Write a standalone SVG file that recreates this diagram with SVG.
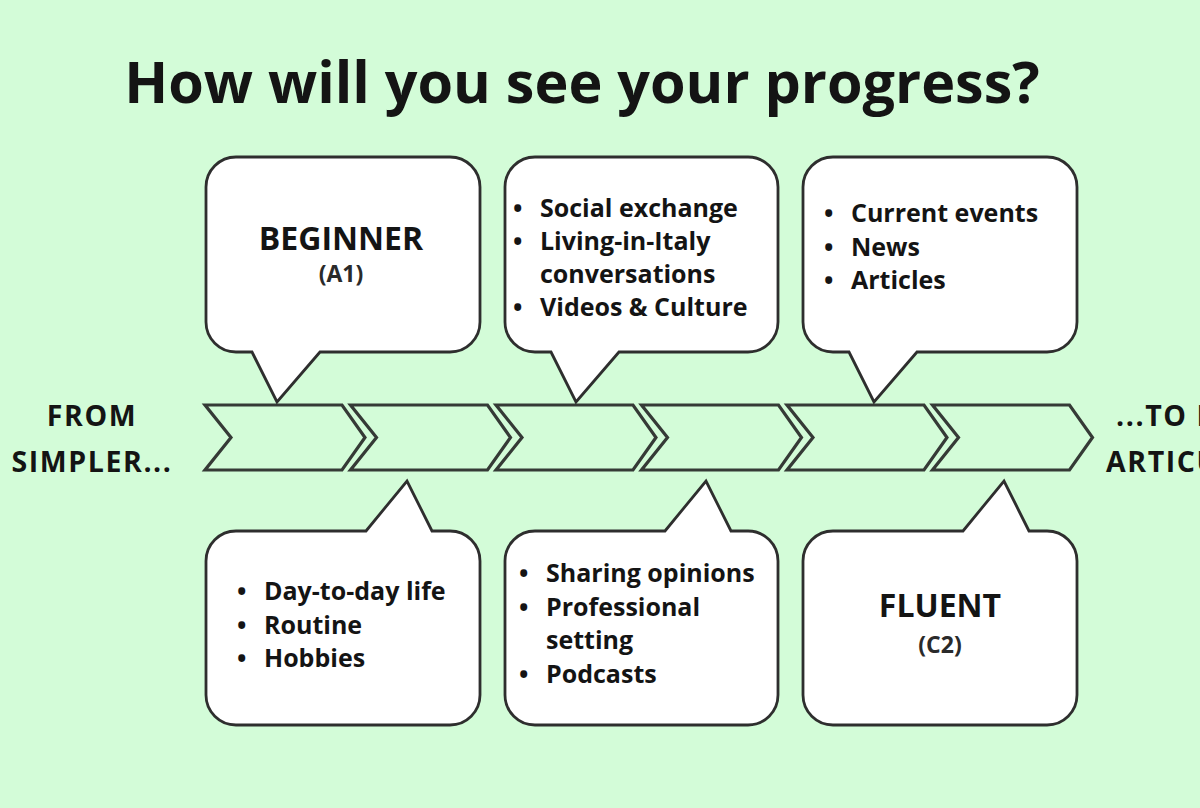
<svg xmlns="http://www.w3.org/2000/svg" width="1200" height="808" viewBox="0 0 1200 808">
<style>
.bg{fill:#d3fcd8}
.chev{fill:#d3fcd8;stroke:#353a36;stroke-width:3.2;stroke-linejoin:miter}
.bub{fill:#ffffff;stroke:#2e2e2e;stroke-width:2.8;stroke-linejoin:miter}
text{font-family:"Open Sans","Noto Sans","Liberation Sans",sans-serif;font-weight:700;fill:#141414}
.title{font-size:57.5px}
.side{font-size:28.5px;letter-spacing:1.6px}
.lvl{font-size:32px;text-anchor:middle}
.code{font-size:23px;text-anchor:middle;fill:#2a2a2a}
.li{font-size:25px}
</style>
<rect class="bg" x="0" y="0" width="1200" height="808"/>
<text class="title" x="582" y="103" text-anchor="middle">How will you see your progress?</text>
<g id="side-left">
<text class="side" x="92" y="426" text-anchor="middle">FROM</text>
<text class="side" x="92" y="472" text-anchor="middle">SIMPLER...</text>
</g>
<g id="side-right">
<text class="side" x="1116" y="426">...TO MORE</text>
<text class="side" x="1106" y="472">ARTICULATE</text>
</g>
<g id="timeline">
<path id="chev1" class="chev" d="M205,405 H342 L365,437.5 L342,470 H205 L231,437.5 Z"/>
<path id="chev2" class="chev" d="M350.5,405 H487.5 L510.5,437.5 L487.5,470 H350.5 L376.5,437.5 Z"/>
<path id="chev3" class="chev" d="M496,405 H633 L656,437.5 L633,470 H496 L522,437.5 Z"/>
<path id="chev4" class="chev" d="M641.5,405 H778.5 L801.5,437.5 L778.5,470 H641.5 L667.5,437.5 Z"/>
<path id="chev5" class="chev" d="M787,405 H924 L947,437.5 L924,470 H787 L813,437.5 Z"/>
<path id="chev6" class="chev" d="M932.5,405 H1069.5 L1092.5,437.5 L1069.5,470 H932.5 L958.5,437.5 Z"/>
</g>
<g id="beginner">
<path class="bub" d="M236,157 H450 A30,30 0 0 1 480,187 V322 A30,30 0 0 1 450,352 H320 L277,402 L252,352 H236 A30,30 0 0 1 206,322 V187 A30,30 0 0 1 236,157 Z"/>
<text class="lvl" x="341" y="250">BEGINNER</text>
<text class="code" x="341" y="282">(A1)</text>
</g>
<g id="social">
<path class="bub" d="M535,157 H748 A30,30 0 0 1 778,187 V322 A30,30 0 0 1 748,352 H619 L576,402 L551,352 H535 A30,30 0 0 1 505,322 V187 A30,30 0 0 1 535,157 Z"/>
<text class="li" x="513" y="217">•</text><text class="li" x="540" y="217">Social exchange</text>
<text class="li" x="513" y="250">•</text><text class="li" x="540" y="250">Living-in-Italy</text>
<text class="li" x="540" y="283">conversations</text>
<text class="li" x="513" y="316">•</text><text class="li" x="540" y="316">Videos &amp; Culture</text>
</g>
<g id="news">
<path class="bub" d="M833,157 H1047 A30,30 0 0 1 1077,187 V322 A30,30 0 0 1 1047,352 H917 L874,402 L849,352 H833 A30,30 0 0 1 803,322 V187 A30,30 0 0 1 833,157 Z"/>
<text class="li" x="824" y="222">•</text><text class="li" x="851" y="222">Current events</text>
<text class="li" x="824" y="256">•</text><text class="li" x="851" y="256">News</text>
<text class="li" x="824" y="289">•</text><text class="li" x="851" y="289">Articles</text>
</g>
<g id="daily">
<path class="bub" d="M236,531 H366 L407,481 L432,531 H450 A30,30 0 0 1 480,561 V695 A30,30 0 0 1 450,725 H236 A30,30 0 0 1 206,695 V561 A30,30 0 0 1 236,531 Z"/>
<text class="li" x="237" y="600">•</text><text class="li" x="264" y="600">Day-to-day life</text>
<text class="li" x="237" y="634">•</text><text class="li" x="264" y="634">Routine</text>
<text class="li" x="237" y="667">•</text><text class="li" x="264" y="667">Hobbies</text>
</g>
<g id="opinions">
<path class="bub" d="M535,531 H665 L706,481 L731,531 H748 A30,30 0 0 1 778,561 V695 A30,30 0 0 1 748,725 H535 A30,30 0 0 1 505,695 V561 A30,30 0 0 1 535,531 Z"/>
<text class="li" x="519" y="582">•</text><text class="li" x="546" y="582">Sharing opinions</text>
<text class="li" x="519" y="616">•</text><text class="li" x="546" y="616">Professional</text>
<text class="li" x="546" y="649">setting</text>
<text class="li" x="519" y="683">•</text><text class="li" x="546" y="683">Podcasts</text>
</g>
<g id="fluent">
<path class="bub" d="M833,531 H963 L1004,481 L1029,531 H1047 A30,30 0 0 1 1077,561 V695 A30,30 0 0 1 1047,725 H833 A30,30 0 0 1 803,695 V561 A30,30 0 0 1 833,531 Z"/>
<text class="lvl" x="940" y="617">FLUENT</text>
<text class="code" x="940" y="653">(C2)</text>
</g>
</svg>
